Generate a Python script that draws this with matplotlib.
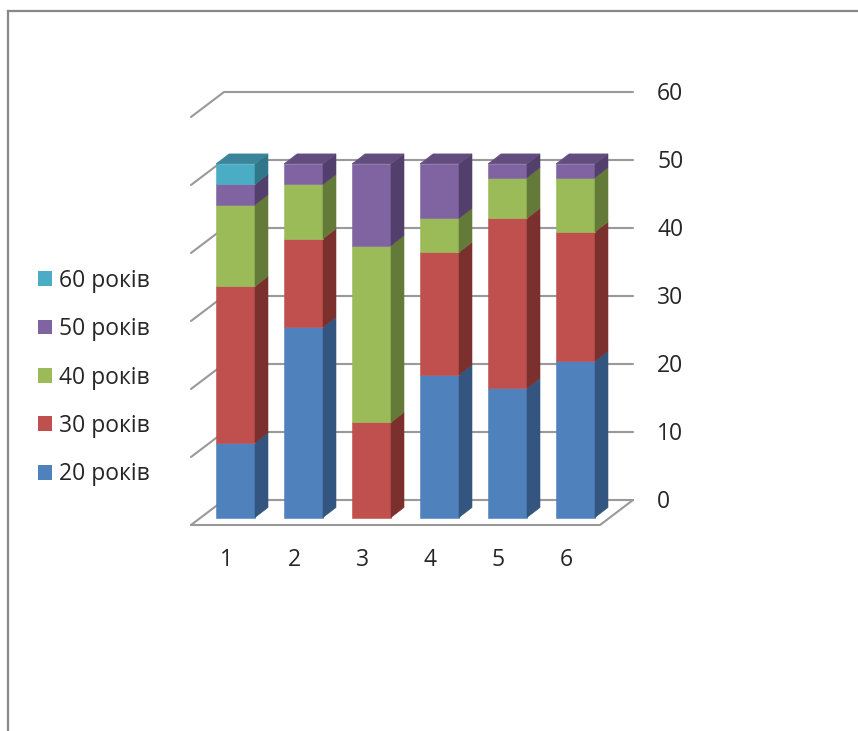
import matplotlib
matplotlib.use("Agg")
import matplotlib.pyplot as plt
from matplotlib.patches import Patch, Polygon
from matplotlib.lines import Line2D
import numpy as np

plt.rcParams["font.family"] = ["Open Sans", "DejaVu Sans"]

groups = ["1", "2", "3", "4", "5", "6"]
years_20 = [11, 28, 0, 21, 19, 23]
years_30 = [23, 13, 14, 18, 25, 19]
years_40 = [12, 8, 26, 5, 6, 8]
years_50 = [3, 3, 12, 8, 2, 2]
years_60 = [3, 0, 0, 0, 0, 0]
wall_ticks = [0, 10, 20, 30, 40, 50, 60]

series = [years_20, years_30, years_40, years_50, years_60]
names = ["20 років", "30 років", "40 років", "50 років", "60 років"]
front = ["#4F81BD", "#C0504D", "#9BBB59", "#8064A2", "#4BACC6"]
side = ["#33557F", "#7C302E", "#647A39", "#533F6C", "#31778A"]
top = ["#3D6594", "#963E3C", "#788F45", "#634D7E", "#3A859A"]

W, H = 858, 731
PX_X = 68.0   # pixels per category
PX_Y = 6.8    # pixels per value unit
X0, Y0 = 235.5, 517.5   # pixel position of category 1, value 0

fig = plt.figure(figsize=(W / 100, H / 100), dpi=100, facecolor="white")
ax = fig.add_axes([0, 0, 1, 1])
ax.set_xlim(1 - X0 / PX_X, 1 + (W - X0) / PX_X)
ax.set_ylim((Y0 - H) / PX_Y, Y0 / PX_Y)
ax.axis("off")

# bar geometry, in data units
half = 19.5 / PX_X
dx_bar, dy_bar = 13 / PX_X, 10 / PX_Y
# walls of the box
wall_lift = 17.5 / PX_Y
wall_left, wall_right = (224 - X0) / PX_X + 1, (633 - X0) / PX_X + 1
floor_left, floor_right = (191 - X0) / PX_X + 1, (600 - X0) / PX_X + 1
floor_drop = 25 / PX_Y

grid = dict(color="#999999", lw=1.5, solid_capstyle="round", zorder=1)
for t in wall_ticks:
    y = t + wall_lift
    ax.plot([floor_left, wall_left, wall_right], [y - floor_drop, y, y], **grid)
    ax.text(wall_right + 24 / PX_X, y - 1.5 / PX_Y, str(t), ha="left", va="center",
            fontsize=16.5, color="#262626")
ax.plot([floor_left, floor_right, wall_right],
        [wall_lift - floor_drop, wall_lift - floor_drop, wall_lift], **grid)

for i, label in enumerate(groups):
    x = i + 1
    bottom = 0
    z = 2 + i
    last = max(k for k, s in enumerate(series) if s[i] > 0)
    for k, s in enumerate(series):
        if s[i] == 0:
            continue
        y1 = bottom + s[i]
        l, r = x - half, x + half
        ax.add_patch(Polygon([(l, bottom), (r, bottom), (r, y1), (l, y1)],
                             fc=front[k], ec=front[k], lw=0.4, zorder=z))
        ax.add_patch(Polygon([(r, bottom), (r + dx_bar, bottom + dy_bar),
                              (r + dx_bar, y1 + dy_bar), (r, y1)],
                             fc=side[k], ec=side[k], lw=0.4, zorder=z))
        if k == last:
            ax.add_patch(Polygon([(l, y1), (r, y1), (r + dx_bar, y1 + dy_bar),
                                  (l + dx_bar, y1 + dy_bar)],
                                 fc=top[k], ec=top[k], lw=0.4, zorder=z))
        bottom = y1
    ax.text(x - 9.5 / PX_X, -43 / PX_Y, label, ha="center", va="center",
            fontsize=16.5, color="#262626")

handles = [Patch(fc=c, ec="none") for c in front[::-1]]
ax.legend(handles, names[::-1], frameon=False, fontsize=16.5, labelcolor="#262626",
          loc="center left", bbox_to_anchor=(38 / W, 1 - 377.5 / H),
          bbox_transform=fig.transFigure, borderaxespad=0, borderpad=0,
          handlelength=0.62, handleheight=0.62, handletextpad=0.3, labelspacing=1.065)

# outer frame
frame = dict(color="#888888", lw=1.6, transform=fig.transFigure)
fig.add_artist(Line2D([8 / W, 1], [1 - 11 / H, 1 - 11 / H], **frame))
fig.add_artist(Line2D([8 / W, 8 / W], [0, 1 - 11 / H], **frame))

fig.savefig("out.png", dpi=100)
